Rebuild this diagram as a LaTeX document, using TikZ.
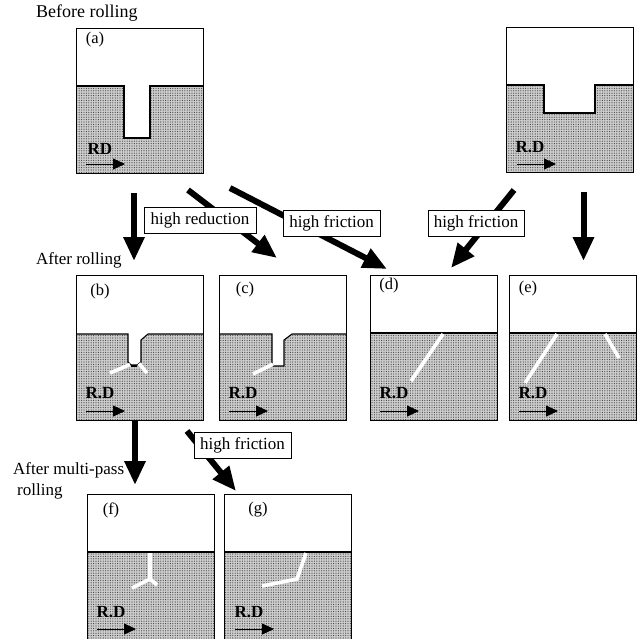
\documentclass[tikz,border=0pt]{standalone}
\usepackage{fontspec}
\setmainfont{Liberation Serif}
\usetikzlibrary{arrows.meta,patterns.meta}
\tikzset{
  x=1pt,y=-1pt,
  panelbox/.style={draw=black,line width=.9pt,fill=white,inner sep=0pt,minimum width=127pt,minimum height=145pt,anchor=north west},
  steel/.style={fill=black!20},
  speck/.style={pattern={Dots[distance=2.4pt,radius=.58pt]},pattern color=black!75},
  edge/.style={draw=black,line width=1.1pt},
  frame/.style={draw=black,line width=.9pt},
  crack/.style={draw=white,line width=3.6pt},
  bigarrow/.style={draw=black,line width=6pt,-{Triangle[length=24pt,width=20pt]}},
  rdarrow/.style={draw=black,line width=.8pt,-{Triangle[length=12pt,width=11pt]}},
  rdtext/.style={font=\fontsize{17}{18}\selectfont\bfseries,inner sep=0pt},
  caption/.style={font=\fontsize{17}{20}\selectfont,inner sep=0pt,anchor=west},
  tag/.style={font=\fontsize{16.5}{20}\selectfont,inner sep=0pt},
  conditionbox/.style={draw=black,line width=.9pt,fill=white,font=\fontsize{17}{20}\selectfont,inner sep=0pt,text height=12pt,text depth=4pt,minimum height=26pt},
}
% #1 x of left, #2 y of top, #3 surface polygon (from top left to top right), #4 name
\newcommand{\steelpanel}[4]{%
  \node[panelbox] (#4) at (#1,#2) {};
  \path[steel] #3 -- (#1+127,#2+145) -- (#1,#2+145) -- cycle;
  \path[speck] #3 -- (#1+127,#2+145) -- (#1,#2+145) -- cycle;
  \draw[edge] #3;
  \draw[frame] (#1,#2) rectangle (#1+127,#2+145);
}
% #1 name, #2 text x, #3 text y, #4 arrow x, #5 arrow y, #6 text
\newcommand{\rdmark}[6]{%
  \node[rdtext] (#1t) at (#2,#3) {#6};
  \coordinate (#1s) at (#4,#5);
  \coordinate (#1e) at (#4+39,#5);
  \draw[rdarrow] (#1s) -- (#1e);
}
\begin{document}
\begin{tikzpicture}
\useasboundingbox (0,0) rectangle (644,638);
\path[fill=white] (0,0) rectangle (644,638);

\node[caption,font=\fontsize{18}{20}\selectfont] (capa) at (36,13) {Before rolling};
\node[caption] (capb) at (36,260) {After rolling};
\node[caption] (capc) at (13,470) {After multi-pass};
\node[caption] (capd) at (17,491) {rolling};

% panels
\steelpanel{76}{28}{(76,86) -- (124,86) -- (124,138) -- (150,138) -- (150,86) -- (203,86)}{pa}
\steelpanel{506}{27}{(506,85) -- (544,85) -- (544,113) -- (595,113) -- (595,85) -- (633,85)}{px}
\steelpanel{76}{275}{(76,334) -- (128,334) -- (128,362) -- (131,365) -- (137,365) -- (141,362) -- (141,340) -- (148,334) -- (203,334)}{pb}
\draw[crack] (130,364.5) -- (110,373);
\draw[crack] (139,363.5) -- (147,373);
\draw[edge] (131,366) -- (137,366);
\steelpanel{219}{275}{(219,334) -- (272,334) -- (272,362) -- (273,366) -- (284,366) -- (284,340) -- (292,334) -- (346,334)}{pc}
\draw[crack] (273,364) -- (253,374);
\steelpanel{370}{275}{(370,333) -- (497,333)}{pd}
\draw[crack] (443,334) -- (411,381);
\steelpanel{509}{275}{(509,333) -- (636,333)}{pe}
\draw[crack] (557,334) -- (525,383);
\draw[crack] (605,334) -- (619,358);
\steelpanel{87}{494}{(87,552) -- (214,552)}{pf}
\draw[crack] (150,553) -- (150,579) -- (132,588);
\draw[crack] (150,579) -- (157,585);
\steelpanel{224}{494}{(224,552) -- (351,552)}{pg}
\draw[crack] (306,553) -- (297,579) -- (262,586);

% panel tags
\node[tag] (ta) at (95,40) {(a)};
\node[tag] (tb) at (100,292) {(b)};
\node[tag] (tc) at (245,290) {(c)};
\node[tag] (td) at (389,286) {(d)};
\node[tag] (te) at (528,289) {(e)};
\node[tag] (tf) at (111,510) {(f)};
\node[tag] (tg) at (258,510) {(g)};

% RD marks
\rdmark{ra}{100}{149}{86}{164}{RD}
\rdmark{rx}{530}{147}{517}{164}{R.D}
\rdmark{rb}{100}{393}{86}{411}{R.D}
\rdmark{rc}{243}{393}{229}{411}{R.D}
\rdmark{rd}{394}{393}{380}{411}{R.D}
\rdmark{re}{533}{393}{519}{411}{R.D}
\rdmark{rf}{111}{612}{97}{629}{R.D}
\rdmark{rg}{249}{612}{235}{629}{R.D}

% big arrows
\coordinate (a1) at (134,193); \coordinate (a2) at (134,261);
\coordinate (b1) at (188,190); \coordinate (b2) at (277,258);
\coordinate (c1) at (230,188); \coordinate (c2) at (387,269);
\coordinate (d1) at (514,190); \coordinate (d2) at (451,268);
\coordinate (e1) at (583.5,192); \coordinate (e2) at (583.5,261);
\coordinate (f1) at (135,420); \coordinate (f2) at (135,485);
\coordinate (g1) at (187,431); \coordinate (g2) at (236,491);
\draw[bigarrow] (a1) -- (a2);
\draw[bigarrow] (b1) -- (b2);
\draw[bigarrow] (c1) -- (c2);
\draw[bigarrow] (d1) -- (d2);
\draw[bigarrow] (e1) -- (e2);
\draw[bigarrow] (f1) -- (f2);
\draw[bigarrow] (g1) -- (g2);

% condition labels
\node[conditionbox,minimum width=112pt] (l1) at (200,220) {high reduction};
\node[conditionbox,minimum width=97pt] (l2) at (331.5,223) {high friction};
\node[conditionbox,minimum width=96pt] (l3) at (476,223) {high friction};
\node[conditionbox,minimum width=97pt] (l4) at (242.5,445.5) {high friction};
\end{tikzpicture}
\end{document}
